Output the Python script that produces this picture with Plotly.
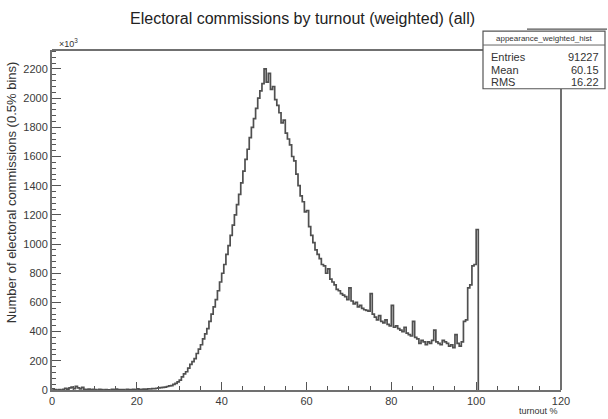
import numpy as np
import plotly.graph_objects as go

# ---- data: 0.5% turnout bins, lower edges 0 .. 100 ----
bin_width = 0.5
bin_lower = np.arange(0, 100.5, bin_width)
counts = [
    # 0 - 10
    8, 2, 0, 3, 0, 4, 12, 6, 15, 20, 10, 25, 14, 8, 18, 5, 3, 6, 2, 4,
    # 10 - 20
    3, 0, 5, 2, 0, 3, 1, 0, 4, 2, 6, 1, 3, 2, 0, 4, 2, 3, 5, 2,
    # 20 - 30
    8, 3, 4, 6, 5, 8, 7, 10, 9, 12, 14, 16, 18, 20, 24, 28, 30, 38, 45, 55,
    # 30 - 40
    68, 90, 110, 125, 150, 175, 195, 215, 250, 280, 310, 350, 385, 420, 470, 520, 570, 620, 680, 740,
    # 40 - 50
    800, 860, 930, 990, 1060, 1130, 1200, 1270, 1340, 1420, 1500, 1580, 1650, 1730, 1800, 1860, 1930, 2000, 2050, 2100,
    # 50 - 60
    2200, 2110, 2170, 2060, 2080, 1990, 1950, 1900, 1830, 1850, 1760, 1720, 1680, 1600, 1570, 1480, 1400, 1330, 1290, 1220,
    # 60 - 70
    1230, 1120, 1060, 1010, 960, 930, 900, 860, 850, 800, 830, 760, 740, 720, 690, 680, 660, 650, 640, 620,
    # 70 - 80
    700, 610, 590, 600, 570, 580, 560, 550, 545, 540, 660, 520, 500, 480, 510, 470, 460, 480, 450, 440,
    # 80 - 90
    580, 430, 440, 420, 410, 400, 430, 390, 380, 370, 470, 360, 350, 320, 340, 330, 310, 330, 320, 340,
    # 90 - 100
    410, 330, 320, 310, 340, 330, 320, 300, 310, 290, 380, 320, 300, 330, 470, 480, 700, 720, 850, 860,
    # 100 - 100.5
    1100,
]

x_ticks = [0, 20, 40, 60, 80, 100, 120]
y_ticks = [0, 200, 400, 600, 800, 1000, 1200, 1400, 1600, 1800, 2000, 2200]
stats_names = ["Entries", "Mean", "RMS"]
stats_values = ["91227", "60.15", "16.22"]

# ---- layout geometry (pixels) ----
W, H = 608, 419
L, R, T, B = 52, 47, 50, 27
PW, PH = W - L - R, H - T - B


def px(x):
    return (x - L) / PW


def py(y):
    return 1 - (y - T) / PH


xs = list(bin_lower) + [bin_lower[-1] + bin_width]
ys = list(counts) + [0]

fig = go.Figure()
fig.add_trace(go.Scatter(
    x=xs, y=ys, mode="lines", line=dict(shape="hv", color="#505050", width=1.7),
    hoverinfo="skip", showlegend=False,
))

FRAME = "#707070"
axis_common = dict(
    showgrid=False, zeroline=False, showline=True, mirror=False,
    linecolor=FRAME, linewidth=2, ticks="inside", tickcolor="#555",
    tickfont=dict(family="Liberation Sans, Arial", size=11, color="#3a3a3a"),
)
fig.update_xaxes(
    range=[0, 120], tickvals=x_ticks, ticklen=8, tickwidth=1.2,
    minor=dict(ticks="inside", dtick=5, ticklen=4, tickcolor="#555"),
    **axis_common,
)
fig.update_yaxes(
    range=[0, 2330], tickvals=y_ticks, ticklen=9, tickwidth=1.2,
    minor=dict(ticks="inside", dtick=40, ticklen=4, tickcolor="#555"),
    **axis_common,
)

font_main = "Liberation Sans, Arial"


def note(text, x, y, size, xanchor="center", yanchor="middle", angle=0, color="#333"):
    return dict(text=text, x=px(x), y=py(y), xref="paper", yref="paper",
                xanchor=xanchor, yanchor=yanchor, showarrow=False, textangle=angle,
                font=dict(family=font_main, size=size, color=color))


ann = [
    note("Electoral commissions by turnout (weighted) (all)", 302, 18, 16, color="#222"),
    note("Number of electoral commissions (0.5% bins)", 11, 193, 13, angle=-90),
    note("×10<sup>3</sup>", 57, 43, 9, xanchor="left"),
    note("turnout %", 560, 413, 9, xanchor="right"),
]

# stats box
bx0, bx1, by0, by1 = 483, 605, 31, 89
shapes = [
    # frame top and right (bottom/left are the axis lines)
    dict(type="line", xref="paper", yref="paper", x0=0, x1=px(bx0), y0=1, y1=1,
         line=dict(color=FRAME, width=2)),
    dict(type="line", xref="paper", yref="paper", x0=1, x1=1, y0=0, y1=py(by1),
         line=dict(color=FRAME, width=2)),
    # stats box
    dict(type="rect", xref="paper", yref="paper", x0=px(bx0), x1=px(bx1), y0=py(by0), y1=py(by1),
         line=dict(color="#555", width=1.2), fillcolor="white"),
    dict(type="line", xref="paper", yref="paper", x0=px(bx0), x1=px(bx1), y0=py(45), y1=py(45),
         line=dict(color="#666", width=1)),
    dict(type="line", xref="paper", yref="paper", x0=px(527), x1=px(607), y0=py(29), y1=py(29),
         line=dict(color="#555", width=1.2)),
]
ann.append(note("appearance_weighted_hist", (bx0 + bx1) / 2, 38, 8))
row_y = [57, 70, 82]
for name, val, yy in zip(stats_names, stats_values, row_y):
    ann.append(note(name, 489, yy, 11, xanchor="left"))
    ann.append(note(val, 601, yy, 11, xanchor="right"))

fig.update_layout(
    width=W, height=H, margin=dict(l=L, r=R, t=T, b=B),
    paper_bgcolor="white", plot_bgcolor="white",
    annotations=ann, shapes=shapes, showlegend=False,
)

fig.write_html("out.html")
